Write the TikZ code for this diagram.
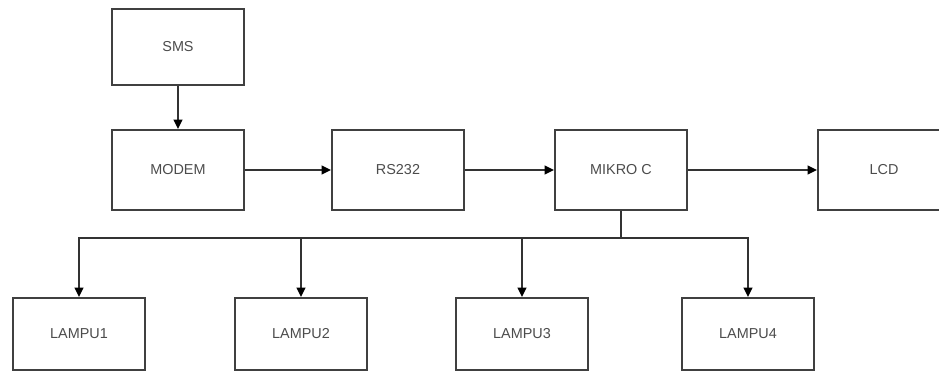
\documentclass[tikz,border=0pt]{standalone}
\usepackage{fontspec}
\setmainfont{Liberation Sans}
\usetikzlibrary{arrows.meta}
\begin{document}
\begin{tikzpicture}[x=0.75pt,y=-0.75pt,
  blk/.style={draw=black!75, line width=1.5pt, fill=white, minimum width=99pt, minimum height=60pt, inner sep=0pt, font=\fontsize{10.8pt}{12pt}\selectfont, text=black!70},
  lamp/.style={blk, minimum height=54pt},
  conn/.style={draw=black!80, line width=1.5pt, -{Triangle[length=7pt,width=6.5pt,color=black]}},
  wire/.style={draw=black!80, line width=1.5pt}]
\useasboundingbox (0,0) rectangle (939,372);
\clip (0,0) rectangle (939,372);
\node[blk, minimum height=57pt] (sms) at (178,47) {SMS};
\node[blk] (modem) at (178,170) {MODEM};
\node[blk] (rs) at (398,170) {RS232};
\node[blk] (mikro) at (621,170) {MIKRO C};
\node[blk] (lcd) at (884,170) {LCD};
\node[lamp] (l1) at (79,334) {LAMPU1};
\node[lamp] (l2) at (301,334) {LAMPU2};
\node[lamp] (l3) at (522,334) {LAMPU3};
\node[lamp] (l4) at (748,334) {LAMPU4};
\coordinate (j) at (621,238);
\draw[conn] (sms) -- (modem);
\draw[conn] (modem) -- (rs);
\draw[conn] (rs) -- (mikro);
\draw[conn] (mikro) -- (lcd);
\draw[wire] (mikro) -- (j);
\draw[conn] (j) -| (l1);
\draw[conn] (j) -| (l2);
\draw[conn] (j) -| (l3);
\draw[conn] (j) -| (l4);
\end{tikzpicture}
\end{document}
